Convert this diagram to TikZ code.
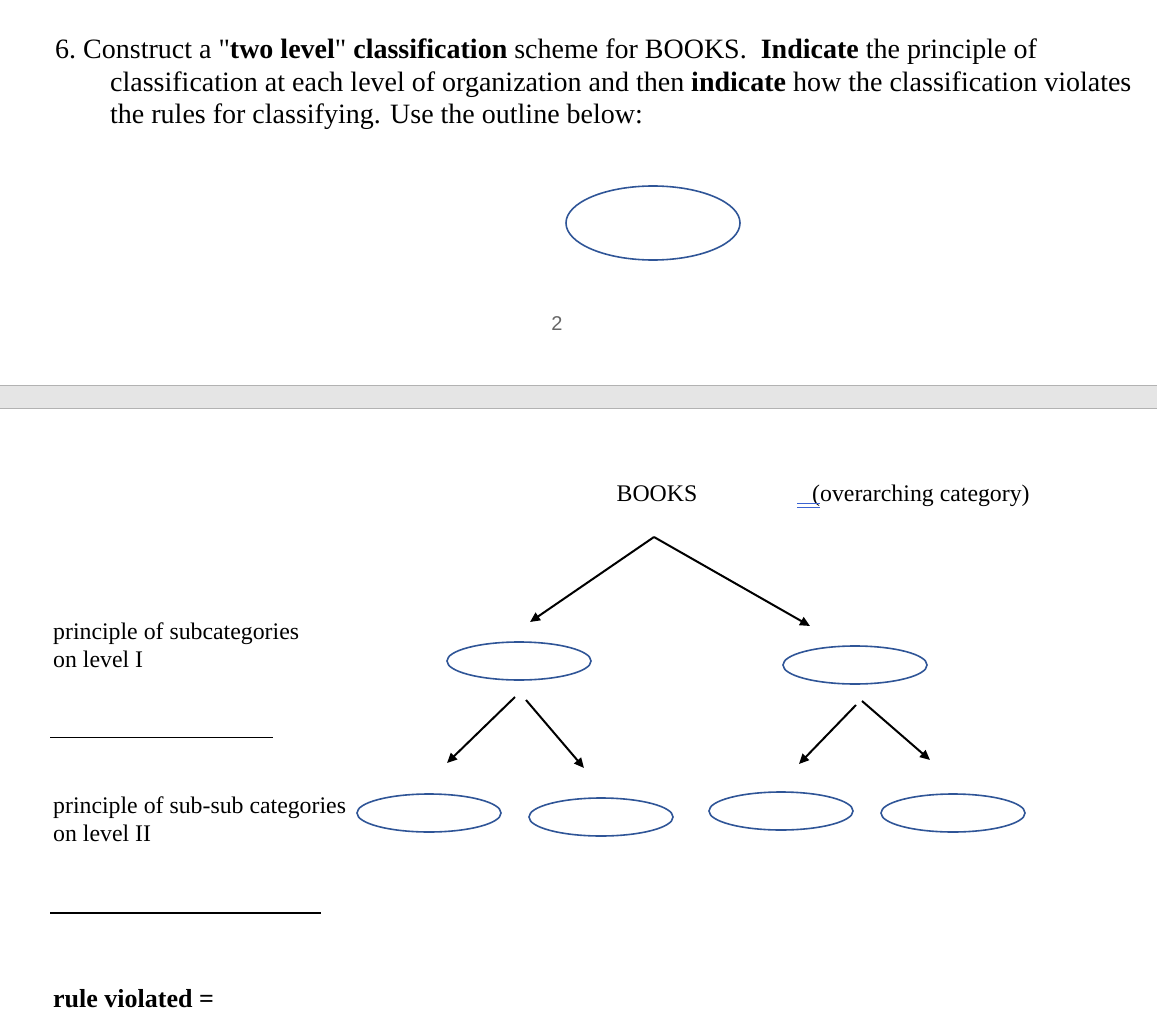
\documentclass[tikz,border=0pt]{standalone}
\usepackage{fontspec}
\setmainfont{Liberation Serif}
\newfontfamily\pgsans{Liberation Sans}
\usetikzlibrary{arrows.meta}
\definecolor{eblue}{RGB}{47,85,151}
\definecolor{lblue}{RGB}{60,100,210}
\begin{document}
\begin{tikzpicture}[x=1pt,y=-1pt,
  eline/.style={draw=eblue,line width=1.6pt},
  arr/.style={line width=2pt,-{Triangle[length=10pt,width=9pt]}},
  head/.style={anchor=base west,font=\fontsize{28}{32}\selectfont,inner sep=0},
  body/.style={anchor=base west,font=\fontsize{23.8}{28}\selectfont,inner sep=0}]
\useasboundingbox (0,0) rectangle (1157,1019);
\node[head] (h1) at (55,59) {6.\ Construct a \textquotedbl\textbf{two level}\textquotedbl{} \textbf{classification} scheme for BOOKS.\ \ \textbf{Indicate} the principle of};
\node[head] (h2) at (110,92) {classification at each level of organization and then \textbf{indicate} how the classification violates};
\node[head] (h3) at (110,124) {the rules for classifying. Use the outline below:};
\draw[eline] (653,223) ellipse (87 and 37);
\node[font=\pgsans\fontsize{20}{22}\selectfont,text=black!60] (pg) at (557,324) {2};
\fill[black!10] (0,385) rectangle (1157,408);
\draw[black!30] (0,385) -- (1157,385) (0,408) -- (1157,408);
\node[body,anchor=base] (books) at (657,501) {BOOKS};
\node[body] (over) at (812,501) {(overarching category)};
\draw[lblue,line width=1pt] (797,503) -- (820,503) (797,507) -- (820,507);
\draw[arr] (654,537) -- (530,622);
\draw[arr] (654,537) -- (810,626);
\draw[eline] (519,661) ellipse (72 and 19);
\draw[eline] (855,665) ellipse (72 and 19);
\draw[arr] (515,697) -- (447,763);
\draw[arr] (526,700) -- (584,768);
\draw[arr] (856,705) -- (799,764);
\draw[arr] (862,701) -- (930,760);
\foreach \x/\y in {429/813,601/817,781/811,953/813}
  \draw[eline] (\x,\y) ellipse (72 and 19);
\node[body] (p1) at (53,639) {principle of subcategories};
\node[body] (p1b) at (53,667) {on level I};
\draw[line width=1pt] (50,737) -- (273,737);
\node[body] (p2) at (53,813) {principle of sub-sub categories};
\node[body] (p2b) at (53,841) {on level II};
\draw[line width=1.4pt] (50,913) -- (321,913);
\node[body,font=\bfseries\fontsize{26}{28}\selectfont] (rv) at (53,1007) {rule violated =};
\end{tikzpicture}
\end{document}
